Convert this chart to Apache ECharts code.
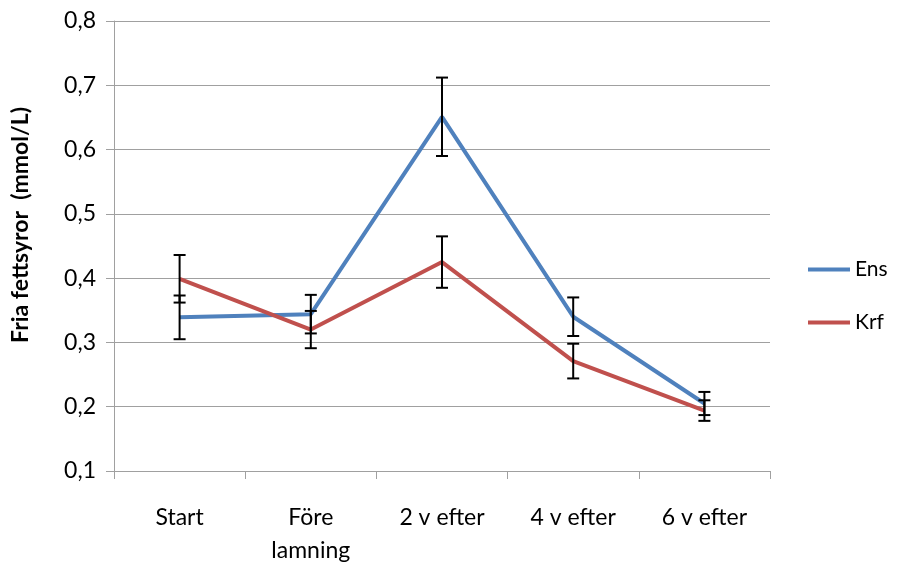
<!DOCTYPE html>
<html>
<head>
<meta charset="utf-8">
<script src="https://cdn.jsdelivr.net/npm/echarts@6/dist/echarts.min.js"></script>
<style>html,body{margin:0;padding:0;background:#fff}#c{width:906px;height:562px}</style>
</head>
<body>
<div id="c"></div>
<script>
const categories = ['Start', 'Före\nlamning', '2 v efter', '4 v efter', '6 v efter'];
const ensValues = [0.339, 0.344, 0.651, 0.340, 0.205];
const ensErr = [0.034, 0.030, 0.061, 0.030, 0.018];
const krfValues = [0.399, 0.320, 0.425, 0.271, 0.194];
const krfErr = [0.037, 0.029, 0.040, 0.027, 0.016];
const yTicks = { min: 0.1, max: 0.8, interval: 0.1 };

const FONT = 'Lato, "Liberation Sans", sans-serif';

function errData(vals, errs) {
  return vals.map((v, i) => [i, v - errs[i], v + errs[i]]);
}
function renderErr(params, api) {
  const x = api.value(0);
  const lo = api.coord([x, api.value(1)]);
  const hi = api.coord([x, api.value(2)]);
  const h = 6;
  const st = { stroke: '#000', lineWidth: 2 };
  return {
    type: 'group',
    children: [
      { type: 'line', shape: { x1: lo[0], y1: lo[1], x2: hi[0], y2: hi[1] }, style: st },
      { type: 'line', shape: { x1: lo[0] - h, y1: lo[1], x2: lo[0] + h, y2: lo[1] }, style: st },
      { type: 'line', shape: { x1: hi[0] - h, y1: hi[1], x2: hi[0] + h, y2: hi[1] }, style: st }
    ]
  };
}

const chart = echarts.init(document.getElementById('c'), null, { renderer: 'canvas' });
chart.setOption({
  animation: false,
  backgroundColor: '#fff',
  grid: { left: 114, right: 136, top: 21, bottom: 91, containLabel: false, outerBoundsMode: 'none' },
  legend: {
    data: [
      { name: 'Ens', icon: 'rect' },
      { name: 'Krf', icon: 'rect' }
    ],
    orient: 'vertical',
    left: 803,
    top: 254,
    itemWidth: 42,
    itemHeight: 4,
    itemGap: 32,
    textStyle: { fontFamily: FONT, fontSize: 21, color: '#000' }
  },
  xAxis: {
    type: 'category',
    data: categories,
    boundaryGap: true,
    axisLine: { lineStyle: { color: '#a0a0a0', width: 1 } },
    axisTick: { show: true, length: 8, lineStyle: { color: '#a0a0a0' } },
    axisLabel: { fontFamily: FONT, fontSize: 23, color: '#000', margin: 30, lineHeight: 33, interval: 0 },
    splitLine: { show: false }
  },
  yAxis: {
    type: 'value',
    min: yTicks.min,
    max: yTicks.max,
    interval: yTicks.interval,
    name: 'Fria fettsyror  (mmol/L)',
    nameLocation: 'middle',
    nameGap: 82,
    nameTextStyle: { fontFamily: FONT, fontSize: 23, fontWeight: 'bold', color: '#000', padding: [0, 0, 0, 42] },
    axisLine: { show: true, lineStyle: { color: '#a0a0a0', width: 1 } },
    axisTick: { show: true, length: 8, lineStyle: { color: '#a0a0a0' } },
    axisLabel: {
      fontFamily: FONT, fontSize: 23, color: '#000', margin: 18,
      formatter: v => v.toFixed(1).replace('.', ',')
    },
    splitLine: { show: true, lineStyle: { color: '#a0a0a0', width: 1 } }
  },
  series: [
    {
      name: 'Ens', type: 'line', data: ensValues, symbol: 'none',
      lineStyle: { color: '#4F81BD', width: 4 }, itemStyle: { color: '#4F81BD' }, z: 3
    },
    {
      name: 'Krf', type: 'line', data: krfValues, symbol: 'none',
      lineStyle: { color: '#C0504D', width: 4 }, itemStyle: { color: '#C0504D' }, z: 3
    },
    {
      name: 'EnsErr', type: 'custom', data: errData(ensValues, ensErr),
      renderItem: renderErr, encode: { x: 0, y: [1, 2] }, z: 5
    },
    {
      name: 'KrfErr', type: 'custom', data: errData(krfValues, krfErr),
      renderItem: renderErr, encode: { x: 0, y: [1, 2] }, z: 5
    }
  ]
});
</script>
</body>
</html>
